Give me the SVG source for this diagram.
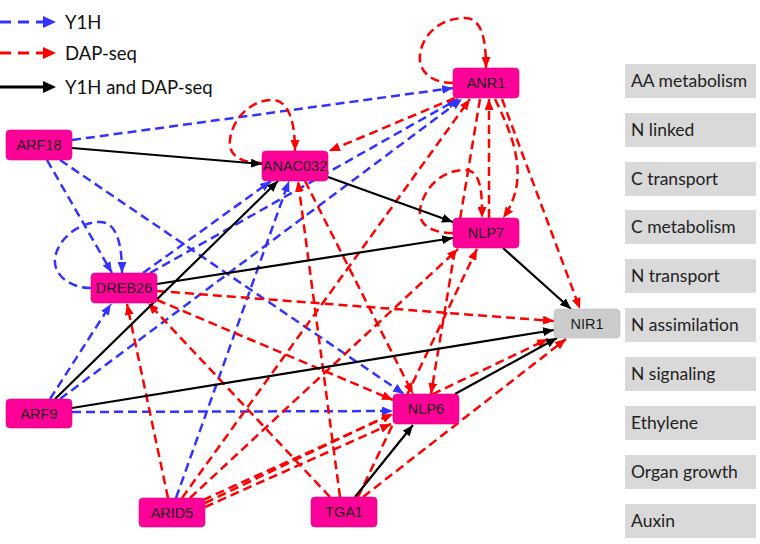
<svg xmlns="http://www.w3.org/2000/svg" width="760" height="544" viewBox="0 0 760 544">
<style>
.b{fill:none;stroke:#3333FF;stroke-width:2.5;stroke-dasharray:9 5;marker-end:url(#ab)}
.r{fill:none;stroke:#FF0000;stroke-width:2.5;stroke-dasharray:9 5;marker-end:url(#ar)}
.k{fill:none;stroke:#000;stroke-width:2.2;marker-end:url(#ak)}
.n rect{fill:#FF0099;stroke:#E0007F;stroke-width:0.6}
.n text{font-family:"Liberation Sans",Arial,sans-serif;font-size:14.5px;fill:#1a1a1a;text-anchor:middle}
.g rect{fill:#CCCCCC;stroke:#BBBBBB;stroke-width:0.6}
.c rect{fill:#D9D9D9}
.c text{font-family:Lato,"Open Sans",sans-serif;font-size:17.5px;fill:#222}
.lg text{font-family:Lato,"Open Sans",sans-serif;font-size:18.5px;fill:#111}
</style>
<defs>
<marker id="ab" markerUnits="userSpaceOnUse" markerWidth="11" markerHeight="9" refX="11" refY="4.5" orient="auto"><path d="M0,0 L11,4.5 L0,9 z" fill="#3333FF"/></marker>
<marker id="ar" markerUnits="userSpaceOnUse" markerWidth="11" markerHeight="9" refX="11" refY="4.5" orient="auto"><path d="M0,0 L11,4.5 L0,9 z" fill="#FF0000"/></marker>
<marker id="ak" markerUnits="userSpaceOnUse" markerWidth="11" markerHeight="9" refX="11" refY="4.5" orient="auto"><path d="M0,0 L11,4.5 L0,9 z" fill="#000"/></marker>
</defs>

<g id="legend" class="lg">
<path d="M0,22 L44,22" stroke="#3333FF" stroke-width="3" stroke-dasharray="11 7" fill="none"/>
<path d="M43,16 L56,22 L43,28 z" fill="#3333FF"/>
<text x="65" y="29">Y1H</text>
<path d="M0,53 L44,53" stroke="#FF0000" stroke-width="3" stroke-dasharray="11 7" fill="none"/>
<path d="M43,47 L56,53 L43,59 z" fill="#FF0000"/>
<text x="65" y="60">DAP-seq</text>
<path d="M0,87 L46,87" stroke="#000" stroke-width="3" fill="none"/>
<path d="M43,81 L56,87 L43,93 z" fill="#000"/>
<text x="65" y="94">Y1H and DAP-seq</text>
</g>

<g id="connectors">
<!-- Y1H -->
<path class="b" d="M72,140 L453,88"/>
<path class="b" d="M47,160 L112,273"/>
<path class="b" d="M60,160 L404,394"/>
<path class="b" d="M91,288 C70,288 53,275 55,258 C58,238 80,222 100,222 C116,222 122,242 122,273"/>
<path class="b" d="M143,273 L271,181"/>
<path class="b" d="M150,273 L458,99"/>
<path class="b" d="M50,399 L111,304"/>
<path class="b" d="M60,399 L462,99"/>
<path class="b" d="M72,412 L393,411"/>
<path class="b" d="M176,498 L289,181"/>
<!-- DAP-seq -->
<path class="r" d="M453,83 C430,83 418,70 420,55 C422,35 440,18 465,18 C482,18 486,40 486,68"/>
<path class="r" d="M262,163 C240,163 228,155 230,140 C232,120 250,100 272,100 C290,100 295,125 295,151"/>
<path class="r" d="M453,233 C432,233 418,225 420,210 C423,190 440,170 465,170 C482,170 482,195 482,218"/>
<path class="r" d="M455,98 L329,151"/>
<path class="r" d="M489,218 L489,99"/>
<path class="r" d="M495,99 C515,140 530,180 503,218"/>
<path class="r" d="M502,99 L580,309"/>
<path class="r" d="M480,99 L431,394"/>
<path class="r" d="M182,498 L470,99"/>
<path class="r" d="M157,291 L554,321"/>
<path class="r" d="M157,300 L393,400"/>
<path class="r" d="M330,497 L148,303"/>
<path class="r" d="M168,498 L127,304"/>
<path class="r" d="M340,497 L298,181"/>
<path class="r" d="M305,181 L413,394"/>
<path class="r" d="M190,498 L458,249"/>
<path class="r" d="M358,497 L477,249"/>
<path class="r" d="M203,500 L393,414"/>
<path class="r" d="M205,507 L391,424"/>
<path class="r" d="M205,503 L548,339"/>
<path class="r" d="M363,497 L566,339"/>
<!-- Y1H and DAP-seq -->
<path class="k" d="M72,148 L262,164"/>
<path class="k" d="M328,177 L453,222"/>
<path class="k" d="M157,284 L453,238"/>
<path class="k" d="M503,248 L571,309"/>
<path class="k" d="M55,399 L278,181"/>
<path class="k" d="M72,408 L554,330"/>
<path class="k" d="M355,497 L413,425"/>
<path class="k" d="M455,394 L557,338"/>
</g>

<g id="ANR1" class="n"><rect x="453" y="68" width="66" height="30" rx="4"/><text x="486" y="88">ANR1</text></g>
<g id="ARF18" class="n"><rect x="6" y="130" width="66" height="30" rx="4"/><text x="39" y="150">ARF18</text></g>
<g id="ANAC032" class="n"><rect x="262" y="151" width="66" height="30" rx="4"/><text x="295" y="171">ANAC032</text></g>
<g id="NLP7" class="n"><rect x="453" y="218" width="66" height="30" rx="4"/><text x="486" y="238">NLP7</text></g>
<g id="DREB26" class="n"><rect x="91" y="273" width="66" height="30" rx="4"/><text x="124" y="293">DREB26</text></g>
<g id="NIR1" class="n g"><rect x="554" y="309" width="66" height="29" rx="4"/><text x="587" y="328.5">NIR1</text></g>
<g id="NLP6" class="n"><rect x="393" y="394" width="66" height="30" rx="4"/><text x="426" y="414">NLP6</text></g>
<g id="ARF9" class="n"><rect x="6" y="399" width="66" height="29" rx="4"/><text x="39" y="418.5">ARF9</text></g>
<g id="ARID5" class="n"><rect x="139" y="498" width="66" height="29" rx="4"/><text x="172" y="517.5">ARID5</text></g>
<g id="TGA1" class="n"><rect x="311" y="497" width="66" height="30" rx="4"/><text x="344" y="517">TGA1</text></g>

<g id="categories" class="c">
<g id="cat-aa"><rect x="625" y="64" width="131" height="34"/><text x="631" y="87">AA metabolism</text></g>
<g id="cat-nlinked"><rect x="625" y="113" width="131" height="34"/><text x="631" y="136">N linked</text></g>
<g id="cat-ctransport"><rect x="625" y="162" width="131" height="34"/><text x="631" y="185">C transport</text></g>
<g id="cat-cmetab"><rect x="625" y="210" width="131" height="34"/><text x="631" y="233">C metabolism</text></g>
<g id="cat-ntransport"><rect x="625" y="259" width="131" height="34"/><text x="631" y="282">N transport</text></g>
<g id="cat-nassim"><rect x="625" y="308" width="131" height="34"/><text x="631" y="331">N assimilation</text></g>
<g id="cat-nsignal"><rect x="625" y="357" width="131" height="34"/><text x="631" y="380">N signaling</text></g>
<g id="cat-ethylene"><rect x="625" y="406" width="131" height="34"/><text x="631" y="429">Ethylene</text></g>
<g id="cat-organ"><rect x="625" y="455" width="131" height="34"/><text x="631" y="478">Organ growth</text></g>
<g id="cat-auxin"><rect x="625" y="504" width="131" height="34"/><text x="631" y="527">Auxin</text></g>
</g>
</svg>
